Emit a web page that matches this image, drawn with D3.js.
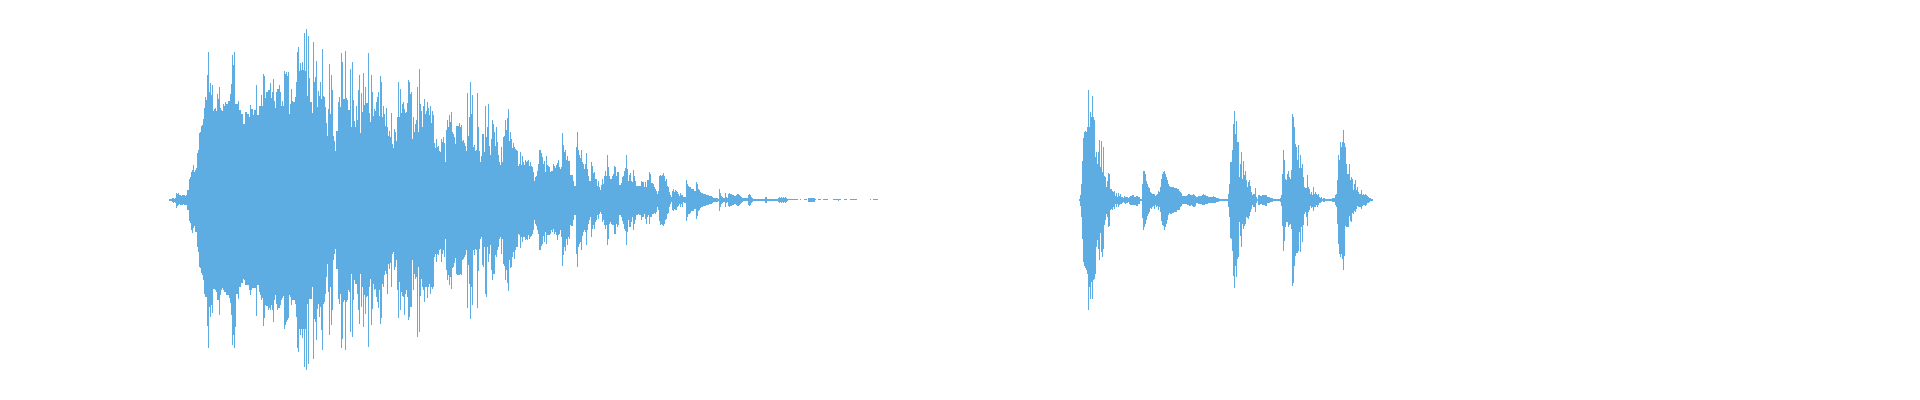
<!DOCTYPE html>
<html><head><meta charset="utf-8">
<script src="https://cdn.jsdelivr.net/npm/d3@7"></script>
<style>html,body{margin:0;padding:0;background:#fff;overflow:hidden}</style>
</head><body>
<svg id="chart" width="1920" height="400"></svg>
<script>
// Time axis: 1920 equal time bins across the recording
const totalBins = 1920;
const amplitudeRange = [-180, 180];

// Clip 1 — peak envelope per time bin
const clip1StartBin = 169;
const clip1Max = [
1,1,1,2,2,1,2,7,6,7,
5,5,4,5,5,5,4,5,10,10,
21,23,28,30,35,28,30,32,47,50,
67,68,74,75,81,92,103,100,125,148,
108,117,105,115,89,91,92,89,106,101,
113,92,90,89,96,94,98,96,96,99,
99,106,116,145,135,148,96,96,96,99,
90,90,86,86,76,76,88,88,86,86,
83,95,91,91,85,90,90,115,85,85,
94,94,105,94,126,124,102,108,108,110,
110,117,102,108,121,99,92,108,111,111,
115,108,94,99,94,129,126,128,124,128,
86,96,111,99,98,98,103,118,148,153,
129,137,130,138,130,167,129,171,104,164,
122,98,98,87,158,118,123,139,93,109,
104,118,101,151,104,103,93,77,64,91,
136,86,125,110,64,59,49,69,69,98,
103,93,147,138,101,101,149,102,100,90,
90,131,73,138,100,79,73,94,80,110,
125,67,107,88,127,95,113,97,97,147,
87,78,125,108,84,91,89,98,103,108,
84,124,118,83,94,86,74,92,73,64,
69,63,87,56,52,71,68,59,83,118,
83,111,87,96,98,91,87,88,97,120,
118,106,108,61,83,68,76,80,113,68,
131,96,89,73,94,101,86,89,98,92,
85,94,77,89,85,57,52,61,53,54,
49,48,61,58,63,57,38,70,80,73,
85,78,88,68,66,63,56,74,74,74,
77,73,75,59,60,57,54,49,107,64,
83,118,86,105,53,55,49,50,107,73,
49,38,44,66,66,48,94,63,73,96,
54,45,61,80,76,68,54,73,58,45,
38,35,53,38,63,64,80,70,82,91,
59,68,61,52,57,53,51,50,49,34,
36,48,35,44,38,35,40,38,39,40,
34,38,34,33,28,19,23,24,29,36,
50,50,47,43,36,39,28,44,35,34,
33,28,29,29,36,34,32,35,37,40,
33,31,33,67,55,48,50,40,44,39,
39,25,25,25,19,14,14,53,68,50,
45,42,50,38,36,31,36,47,31,24,
19,19,38,34,27,28,21,21,14,19,
13,10,15,21,16,24,29,24,45,33,
24,21,21,24,26,34,33,24,28,28,
15,15,17,23,24,29,32,45,31,19,
25,27,19,18,30,24,19,14,14,14,
14,14,19,18,18,13,18,13,20,20,
28,26,17,17,16,13,11,9,6,9,
24,25,24,25,27,24,19,21,14,13,
8,5,3,9,11,8,10,9,8,6,
4,7,5,5,3,3,3,20,16,14,
13,13,11,11,11,9,9,18,16,11,
10,8,7,7,6,6,6,5,5,5,
4,4,4,3,2,2,2,2,2,1,
11,7,4,3,2,2,7,3,2,6,
7,6,6,5,5,4,4,5,6,6,
5,4,3,2,1.5,1.5,1.5,1.5,1.5,5,
6,5,3,2,1,1,1,1,1,1,
1,1,1,1,1,1,3,3,1,1,
1,1,1,1,1,1,1,1,1,2,
3,2,3,2,3,2,3,2,1,0.5,
0.5,0.5,0.5,0.5,0.5,0.5,0.5,0.5,0.5,0,
0,0.5,0,0,0,0.5,0.5,0.5,0,2,
2,2,2,2,2,2,0.5,0,0,0.5,
0.5,0.5,0,0,0.5,0.5,0.5,0.5,0.5,0,
0,0,0,0,0.5,0.5,0.5,0.5,0.5,1,
0.5,0.5,0,0,0,0.5,0.5,0.5,0,0,
0,0.5,0.5,0.5,0.5,0.5,0.5,0.5,0,0,
0,0,0,0,0,0,0,0,0,0,
0,0.5,0,0,0.5,0.5,0.5,0.5,0.5
];
const clip1Min = [
1,1,1,2,3,2,3,8,6,5,
4,5,5,5,4,5,5,5,10,10,
21,23,30,33,28,26,32,32,47,52,
67,68,73,75,80,94,97,97,126,148,
107,117,105,113,89,89,90,92,100,100,
115,95,90,88,90,92,92,95,95,95,
98,103,115,145,135,148,127,94,94,99,
87,87,83,83,79,80,85,85,85,85,
90,95,90,88,88,88,88,116,85,85,
92,95,100,98,126,118,105,106,106,110,
108,110,105,110,122,100,95,104,110,108,
108,105,100,98,96,129,125,122,120,118,
95,97,105,100,100,100,104,117,148,152,
129,135,129,138,129,167,129,170,104,164,
99,99,99,87,159,119,122,140,109,104,
117,107,130,150,104,102,94,77,64,92,
135,87,125,110,60,54,49,69,69,99,
104,94,148,139,102,100,150,102,100,90,
92,132,74,137,100,80,84,84,94,110,
124,74,107,87,127,95,114,97,96,147,
87,79,125,109,84,90,89,97,102,108,
90,124,118,84,87,75,71,74,94,64,
69,63,87,54,52,70,67,60,90,118,
82,110,92,96,97,115,94,90,97,120,
117,107,107,60,90,74,79,77,137,67,
132,96,79,87,90,102,87,87,98,87,
84,94,87,89,87,57,54,62,54,55,
50,49,62,54,50,57,39,70,80,75,
85,77,89,68,67,63,58,74,75,75,
75,74,75,60,59,57,55,50,108,65,
84,119,87,105,50,55,49,50,108,71,
49,39,37,65,67,47,94,97,47,62,
54,45,70,80,74,74,55,57,50,47,
39,37,54,39,64,66,80,70,83,91,
60,68,67,57,52,59,50,47,47,34,
35,48,37,42,37,37,40,39,40,35,
39,37,36,34,30,20,24,26,30,34,
50,50,46,44,36,42,32,44,35,35,
35,34,30,32,29,34,32,35,40,35,
34,30,37,66,55,47,51,39,45,37,
39,25,26,26,20,15,15,54,67,47,
44,42,50,36,32,30,32,45,30,24,
20,17,37,29,25,29,22,20,15,19,
14,12,14,22,20,25,29,25,45,39,
24,22,24,25,25,34,34,24,27,25,
15,15,17,21,24,29,31,45,32,20,
27,27,22,17,30,24,20,15,15,14,
15,15,20,17,17,14,19,24,17,15,
24,17,17,14,14,13,14,12,7,10,
21,25,24,25,26,24,20,19,14,13,
7,4,2,10,11,9,10,10,7,6,
4,7,4,7,2,3,3,21,17,14,
14,13,11,11,11,9,9,19,16,11,
10,8,7,7,6,6,6,5,5,5,
4,4,4,3,2,2,2,2,2,1,
11,7,4,3,2,2,7,3,2,6,
7,6,6,5,5,4,4,5,6,6,
5,4,3,2,1.5,1.5,1.5,1.5,1.5,5,
6,5,3,2,1,1,1,1,1,1,
1,1,1,1,1,1,3,3,1,1,
1,1,1,1,1,1,1,1,1,2,
3,2,3,2,3,2,3,2,1,0.5,
0.5,0.5,0.5,0.5,0.5,0.5,0.5,0.5,0.5,0,
0,0.5,0,0,0,0.5,0.5,0.5,0,2,
2,2,2,2,2,2,0.5,0,0,0.5,
0.5,0.5,0,0,0.5,0.5,0.5,0.5,0.5,0,
0,0,0,0,0.5,0.5,0.5,0.5,0.5,1,
0.5,0.5,0,0,0,0.5,0.5,0.5,0,0,
0,0.5,0.5,0.5,0.5,0.5,0.5,0.5,0,0,
0,0,0,0,0,0,0,0,0,0,
0,0.5,0,0,0.5,0.5,0.5,0.5,0.5
];

// Clip 2 — peak envelope per time bin
const clip2StartBin = 1079;
const clip2Max = [
1,5,16,39,62,68,69,68,73,110,
73,88,83,104,83,80,43,48,36,48,
60,33,59,28,53,24,23,13,19,27,
26,11,11,9,8,9,4,7,3,7,
4,6,3,3,2,4,3,3,3,2,
3,4,4,5,5,3,3,4,4,3,
3,1,1,16,29,29,26,19,16,13,
12,8,7,6,6,6,4,5,6,9,
8,13,21,26,28,29,26,23,20,16,
14,13,13,13,13,12,12,12,11,11,
9,8,7,4,4,4,4,4,5,6,
6,5,5,5,6,5,4,3,3,4,
4,4,4,5,6,5,5,4,4,3,
3,3,3,3,4,3,3,2,2,2,
1,1,1,1,1,1,1,1,1,6,
16,38,38,50,76,89,66,79,58,58,
23,36,48,21,39,25,29,20,13,18,
20,14,8,5,6,6,12,3,1,5,
5,4,4,5,5,5,5,5,3,3,
3,2,2,2,1,1,1,1,1,1,
1,2,5,26,50,40,21,20,26,29,
23,21,30,86,83,73,56,53,40,55,
32,45,32,36,23,13,12,12,25,13,
11,6,8,5,13,6,8,6,5,6,
3,2,3,1,2,2,1,1,1,1,
1,1,1,2,2,2,5,6,20,45,
40,58,53,58,70,57,53,36,26,26,
36,20,23,21,10,16,20,10,13,8,
6,6,10,5,6,5,6,5,4,3,
2,2,1,1
];
const clip2Min = [
1,6,17,39,62,66,68,70,74,110,
87,99,82,99,80,79,74,47,40,49,
60,33,52,57,49,25,20,14,17,27,
26,10,9,10,7,9,4,7,4,7,
5,4,4,3,2,3,4,3,3,2,
4,5,5,5,5,5,5,6,6,4,
4,1,1,18,30,27,24,20,16,14,
12,8,9,7,6,9,5,7,6,10,
7,12,21,25,26,30,27,24,20,15,
13,14,14,13,13,12,12,12,10,10,
10,7,6,4,4,4,4,4,5,5,
6,6,5,6,7,7,6,3,3,4,
4,4,4,5,5,5,4,4,4,3,
3,3,3,3,3,3,3,2,2,2,
1,1,1,1,1,1,1,1,1,7,
17,38,39,51,76,88,66,77,59,57,
22,36,47,24,29,26,24,17,18,19,
16,12,9,5,7,7,12,3,1,5,
5,4,4,5,5,5,6,6,3,3,
3,2,2,2,1,1,1,1,1,1,
1,2,6,26,51,41,27,22,22,27,
25,24,29,86,83,66,56,53,53,51,
32,52,27,42,25,14,12,17,26,12,
10,6,8,7,11,7,7,5,7,5,
3,3,2,1,2,2,1,1,1,1,
1,1,1,2,2,2,5,7,24,44,
54,57,54,59,70,56,26,27,27,27,
16,21,22,13,14,11,12,9,6,7,
7,7,9,6,5,5,6,5,3,3,
2,1,1,1
];

const width = 1920, height = 400;
const svg = d3.select("#chart");
const x = d3.scaleLinear().domain([0, totalBins]).range([0, width]);
const y = d3.scaleLinear().domain(amplitudeRange).range([379.5, 19.5]);

function clipData(start, maxs, mins) {
  return maxs.map((m, i) => ({ bin: start + i, hi: m, lo: -mins[i] }));
}
const data = clipData(clip1StartBin, clip1Max, clip1Min)
  .concat(clipData(clip2StartBin, clip2Max, clip2Min))
  .filter(d => d.hi - d.lo > 0);

svg.append("g")
  .attr("shape-rendering", "crispEdges")
  .attr("fill", "#5dade2")
  .selectAll("rect")
  .data(data)
  .join("rect")
  .attr("x", d => x(d.bin))
  .attr("width", d => x(d.bin + 1) - x(d.bin))
  .attr("y", d => y(d.hi))
  .attr("height", d => y(d.lo) - y(d.hi));
</script>
</body></html>
